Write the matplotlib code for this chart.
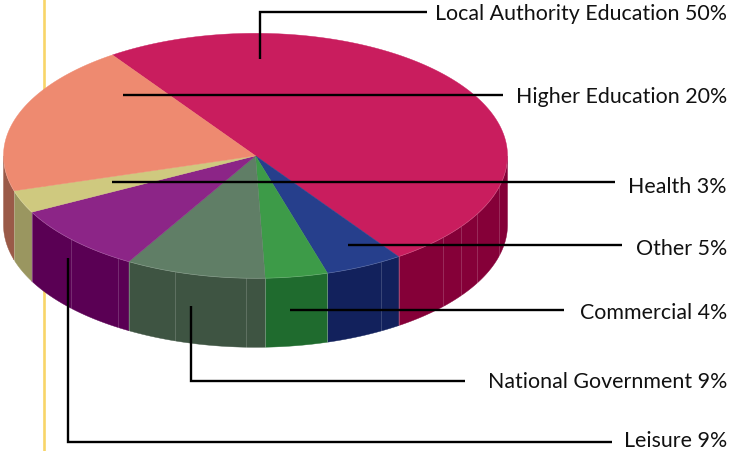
import numpy as np
import matplotlib
matplotlib.use("Agg")
import matplotlib.pyplot as plt
from matplotlib.patches import Polygon

categories = ["Local Authority Education", "Other", "Commercial", "National Government",
              "Leisure", "Health", "Higher Education"]
values = [50, 5, 4, 9, 9, 3, 20]
top_colors = ["#c91d5e", "#263f8c", "#3d9b48", "#607e66", "#8c2587", "#cfc97f", "#ee8a70"]
side_colors = ["#850038", "#12215c", "#1f6b2e", "#3e5442", "#5a0054", "#9a9660", "#9a5a48"]

# label order, baselines and leader paths (pixel coordinates)
label_order = ["Local Authority Education", "Higher Education", "Health", "Other",
               "Commercial", "National Government", "Leisure"]
label_y = [20, 103, 193, 255, 319, 388, 447]
leaders = [
    [(260, 60), (260, 13), (427, 13)],
    [(123, 96), (503, 96)],
    [(112, 183), (615, 183)],
    [(348, 246), (622, 246)],
    [(290, 311), (564, 311)],
    [(191, 307), (191, 382), (465, 382)],
    [(68, 259), (68, 443), (612, 443)],
]
seam_x = [71, 118, 175, 246, 381, 443, 461, 477, 499]

cx, cy, rx, ry, depth = 255.5, 156.8, 252.0, 122.5, 69.0
start_angle = 124.6

fig = plt.figure(figsize=(7.30, 4.52), dpi=100)
ax = fig.add_axes([0, 0, 1, 1])
ax.set_xlim(0, 730)
ax.set_ylim(452, 0)
ax.axis("off")

ax.plot([44, 44], [0, 452], color="#f8d568", lw=1.9, zorder=1, solid_capstyle="butt")


def pt(a):
    a = np.radians(a)
    return cx + rx * np.cos(a), cy - ry * np.sin(a)


fracs = np.array(values, dtype=float) / sum(values)
edges = start_angle - np.concatenate([[0], np.cumsum(fracs)]) * 360

# sides
for i in range(len(values)):
    a0, a1 = edges[i], edges[i + 1]
    hi = min(a0, 0)
    lo = max(a1, -180)
    if hi <= lo:
        continue
    t = np.linspace(hi, lo, 120)
    x, y = pt(t)
    verts = np.column_stack([np.r_[x, x[::-1]], np.r_[y, (y + depth)[::-1]]])
    ax.add_patch(Polygon(verts, closed=True, fc=side_colors[i], ec=side_colors[i], lw=0.3, zorder=2))
    if lo > -180:
        ax.plot([x[-1], x[-1]], [y[-1], y[-1] + depth], color="white", alpha=0.3, lw=0.6, zorder=3)

# faint seams on the wall
for sx in seam_x:
    u = (sx - cx) / rx
    h = ry * np.sqrt(1 - u * u)
    ax.plot([sx, sx], [cy + h, cy + h + depth], color="white", alpha=0.2, lw=0.6, zorder=3)

# top faces
for i in range(len(values)):
    t = np.linspace(edges[i], edges[i + 1], 200)
    x, y = pt(t)
    verts = np.column_stack([np.r_[cx, x], np.r_[cy, y]])
    ax.add_patch(Polygon(verts, closed=True, fc=top_colors[i], ec=top_colors[i], lw=0.3, zorder=4))

t = np.linspace(-180, 0, 300)
x, y = pt(t)
ax.plot(x, y, color="white", alpha=0.2, lw=0.5, zorder=5)

# leaders and labels
for path in leaders:
    px = [p[0] for p in path]
    py = [p[1] + 0.4 for p in path]
    ax.plot(px, py, color="black", lw=1.7, zorder=6, solid_joinstyle="miter", solid_capstyle="butt")

for name, yy in zip(label_order, label_y):
    v = values[categories.index(name)]
    ax.text(727, yy, f"{name} {v}%", ha="right", va="baseline", fontsize=15.4,
            family="Lato", color="#111111", zorder=7)

fig.savefig("out.png", dpi=100, facecolor="white")
